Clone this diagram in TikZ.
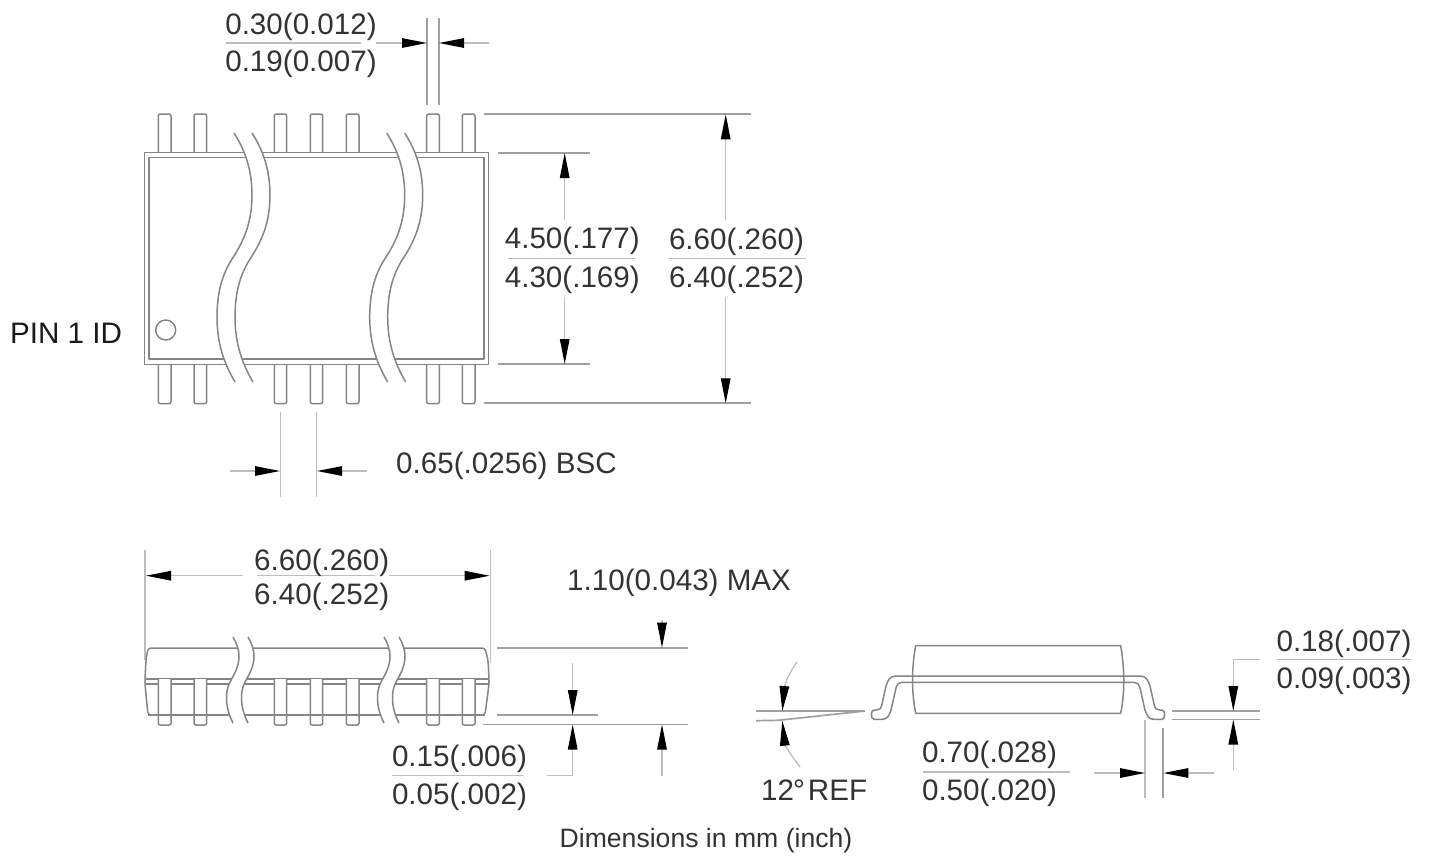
\documentclass[tikz,border=0pt]{standalone}
\usepackage{fontspec}
\setmainfont{Liberation Sans}
\usetikzlibrary{arrows.meta}
\definecolor{partc}{HTML}{858585}
\definecolor{dimc}{HTML}{BDBDBD}
\definecolor{extc}{HTML}{A0A0A0}
\definecolor{txtc}{HTML}{333333}
\tikzset{
  x=1pt,y=-1pt,
  part/.style={draw=partc,line width=1.5pt,line join=round},
  dimline/.style={draw=dimc,line width=1.3pt},
  extline/.style={draw=extc,line width=1.7pt},
  dimarrow/.style={dimline,-{Triangle[length=25pt,width=9.5pt,color=black]}},
  lbl/.style={anchor=base,text=txtc,inner sep=0pt,yshift=-2pt,font=\fontsize{29.6}{30}\selectfont},
  pinbox/.style={part,fill=white,rounded corners=2pt},
}
\newcommand{\TopPin}[2]{\draw[pinbox] (#1,153) -- (#1,114) -- (#2,114) -- (#2,153);
  \draw[pinbox] (#1,364) -- (#1,403.7) -- (#2,403.7) -- (#2,364);}
\newcommand{\SidePin}[2]{\draw[pinbox] (#1,679) -- (#1,725) -- (#2,725) -- (#2,679);}
\newcommand{\TopBreak}[1]{\begin{scope}[xshift=#1pt]
  \fill[white] (234,133) .. controls (245,150) and (252,170) .. (252,195) .. controls (252,225) and (242,243) .. (234,256) .. controls (226,268) and (217,285) .. (217,317) .. controls (217,345) and (225,365) .. (235,382) -- (253,382) .. controls (243,365) and (235,345) .. (235,317) .. controls (235,285) and (244,268) .. (252,256) .. controls (260,243) and (270,225) .. (270,195) .. controls (270,170) and (263,150) .. (252,133) -- cycle;
  \draw[part] (234,133) .. controls (245,150) and (252,170) .. (252,195) .. controls (252,225) and (242,243) .. (234,256) .. controls (226,268) and (217,285) .. (217,317) .. controls (217,345) and (225,365) .. (235,382);
  \draw[part] (252,133) .. controls (263,150) and (270,170) .. (270,195) .. controls (270,225) and (260,243) .. (252,256) .. controls (244,268) and (235,285) .. (235,317) .. controls (235,345) and (243,365) .. (253,382);
\end{scope}}
\newcommand{\SideBreak}[1]{\begin{scope}[xshift=#1pt]
  \fill[white] (233,637) .. controls (237,644) and (239,650) .. (239,656) .. controls (239,668) and (233,676) .. (230,682) .. controls (227,688) and (226.5,693) .. (226.5,698) .. controls (226.5,707) and (229,715) .. (233,723) -- (248,723) .. controls (244,715) and (241.5,707) .. (241.5,698) .. controls (241.5,693) and (242,688) .. (245,682) .. controls (248,676) and (254,668) .. (254,656) .. controls (254,650) and (252,644) .. (248,637) -- cycle;
  \draw[part] (233,637) .. controls (237,644) and (239,650) .. (239,656) .. controls (239,668) and (233,676) .. (230,682) .. controls (227,688) and (226.5,693) .. (226.5,698) .. controls (226.5,707) and (229,715) .. (233,723);
  \draw[part] (248,637) .. controls (252,644) and (254,650) .. (254,656) .. controls (254,668) and (248,676) .. (245,682) .. controls (242,688) and (241.5,693) .. (241.5,698) .. controls (241.5,707) and (244,715) .. (248,723);
\end{scope}}
\begin{document}
\begin{tikzpicture}
\useasboundingbox (0,0) rectangle (1429,855);
\fill[white] (0,0) rectangle (1429,855);

% ---- top view: pins
\TopPin{158.3}{171}
\TopPin{194}{206.7}
\TopPin{274.3}{286.7}
\TopPin{310.3}{322.7}
\TopPin{346.3}{359}
\TopPin{426.7}{439.3}
\TopPin{462.3}{475}
% body
\draw[part,fill=white] (144.5,152.7) rectangle (488.7,364.3);
\draw[part] (149,157.7) rectangle (484,359);
\draw[part] (165.7,330) circle[radius=10];
\TopBreak{0}
\TopBreak{152.7}

% ---- top view dimensions
\draw[extline] (427.3,17.7) -- (427.3,105);
\draw[extline] (438.7,17.7) -- (438.7,105);
\draw[dimline] (226,43) -- (361,43);
\draw[dimarrow] (375.7,43) -- (427,43);
\draw[dimarrow] (489.3,43) -- (439,43);
\node[lbl] (a1) at (301,32.5) {0.30(0.012)};
\node[lbl] (a2) at (301,69.5) {0.19(0.007)};

\draw[extline] (484,114.3) -- (751,114.3);
\draw[extline] (484,403.3) -- (751,403.3);
\draw[extline] (498,153) -- (590,153);
\draw[extline] (498,364) -- (590,364);
\draw[dimarrow] (564.7,220) -- (564.7,153);
\draw[dimarrow] (564.7,297) -- (564.7,364);
\draw[dimarrow] (725.7,220) -- (725.7,114.3);
\draw[dimarrow] (725.7,297) -- (725.7,403.3);
\draw[dimline] (507.7,258.3) -- (635,258.3);
\draw[dimline] (669,258.3) -- (806,258.3);
\node[lbl] (b1) at (572.3,246.5) {4.50(.177)};
\node[lbl] (b2) at (572.3,285) {4.30(.169)};
\node[lbl] (c1) at (736.5,247.5) {6.60(.260)};
\node[lbl] (c2) at (736.5,285) {6.40(.252)};

\node[lbl,anchor=base west,text=black!90] (pin) at (10,341) {PIN 1 ID};

\draw[dimline] (280.3,412.3) -- (280.3,496.7);
\draw[dimline] (316.7,412.3) -- (316.7,496.7);
\draw[dimarrow] (230,471) -- (280,471);
\draw[dimarrow] (367.3,471) -- (317,471);
\node[lbl,anchor=base west] (bsc) at (396,471.5) {0.65(.0256) BSC};

% ---- side view
\draw[dimline] (145,550) -- (145,660);
\draw[dimline] (490.7,550) -- (490.7,663);
\draw[dimarrow] (242.7,575.7) -- (146,575.7);
\draw[dimarrow] (389.3,575.7) -- (489.7,575.7);
\draw[dimline] (257.3,575.7) -- (375,575.7);
\node[lbl] (d1) at (321.7,568.5) {6.60(.260)};
\node[lbl] (d2) at (321.7,602.8) {6.40(.252)};

\draw[part,rounded corners=3pt] (145,679) -- (146,660) -- (148,648) -- (485,648) -- (488,660) -- (489,679) -- (489,684) -- (485,715) -- (148,715) -- (145,684) -- cycle;
\draw[part] (145,679) -- (489,679);
\draw[part] (145,684) -- (489,684);
\SidePin{158.3}{171}
\SidePin{194}{206.7}
\SidePin{274.3}{286.7}
\SidePin{310.3}{322.7}
\SidePin{346.3}{359}
\SidePin{426.7}{439.3}
\SidePin{462.3}{475}
\draw[part] (148,715) -- (485,715);
\SideBreak{0}
\SideBreak{151}

% ---- height dimensions
\draw[extline] (497,647.7) -- (688,647.7);
\draw[extline] (497,715) -- (598,715);
\draw[extline] (483,724.5) -- (688,724.5);
\draw[dimarrow] (662,620) -- (662,647.7);
\draw[dimarrow] (572.7,662.7) -- (572.7,715);
\draw[dimarrow] (572.7,775.7) -- (572.7,724.5);
\draw[dimline] (546.7,775.7) -- (572.7,775.7);
\draw[dimarrow] (662,776) -- (662,724.5);
\draw[dimline] (392,775.7) -- (523,775.7);
\node[lbl,anchor=base west] (e1) at (567,588.5) {1.10(0.043) MAX};
\node[lbl] (f1) at (459.5,764.5) {0.15(.006)};
\node[lbl] (f2) at (459.5,802.5) {0.05(.002)};

% ---- end view
\draw[part] (915.7,645.7) -- (1120.7,645.7) .. controls (1124,665) and (1125.5,690) .. (1120.7,713.3) -- (915.7,713.3) .. controls (911,690) and (912,665) .. (915.7,645.7) -- cycle;
\draw[part,rounded corners=1pt] (1018,676) -- (1139,676) .. controls (1146,676) and (1148,680) .. (1150,686) -- (1154,704) .. controls (1155,709) and (1157,710) .. (1161,710) .. controls (1165.5,710) and (1165.5,719.3) .. (1161,719.3) -- (1155,719.3) .. controls (1149,719.3) and (1147,716) .. (1145,710) -- (1140,688) .. controls (1139,684) and (1137,682.3) .. (1133,682.3) -- (903,682.3) .. controls (899,682.3) and (897,684) .. (896,688) -- (891,710) .. controls (889,716) and (887,719.3) .. (881,719.3) -- (875,719.3) .. controls (870.5,719.3) and (870.5,710) .. (875,710) .. controls (879,710) and (881,709) .. (882,704) -- (886,686) .. controls (888,680) and (890,676) .. (897,676) -- cycle;

% angle
\draw[extline] (756,711) -- (865,711);
\draw[extline] (756,720.7) -- (778,720.3) -- (865,711);
\draw[dimline] (797,662) .. controls (790,672) and (786,680) .. (784.5,687);
\draw[dimarrow] (784.5,685) -- (782.3,711);
\draw[dimline] (800,767) .. controls (794,759) and (789,752) .. (785,745);
\draw[dimarrow] (785,747) -- (782.3,720.7);
\node[lbl,anchor=base west] (g1) at (761,798.5) {12\kern-1pt°\kern3pt REF};

% lead thickness
\draw[extline] (1172.3,711) -- (1259.7,711);
\draw[extline] (1172.3,719.5) -- (1259.7,719.5);
\draw[dimline] (1260,659.3) -- (1233.3,659.3) -- (1233.3,690);
\draw[dimarrow] (1233.3,684) -- (1233.3,711);
\draw[dimarrow] (1233.3,770) -- (1233.3,719.5);
\draw[dimline] (1277,659.5) -- (1411,659.5);
\node[lbl] (h1) at (1344,649.5) {0.18(.007)};
\node[lbl] (h2) at (1344,686.5) {0.09(.003)};

% foot length
\draw[dimline] (1145,720) -- (1145,798);
\draw[extline] (1163.3,728) -- (1163.3,798);
\draw[dimarrow] (1094,773) -- (1145,773);
\draw[dimarrow] (1214,773) -- (1163.3,773);
\draw[dimline] (922.7,772) -- (1070,772);
\node[lbl] (i1) at (989.5,760.5) {0.70(.028)};
\node[lbl] (i2) at (989.5,798.5) {0.50(.020)};

\node[lbl,font=\fontsize{26.6}{27}\selectfont] (cap) at (706,845) {Dimensions in mm (inch)};
\end{tikzpicture}
\end{document}
